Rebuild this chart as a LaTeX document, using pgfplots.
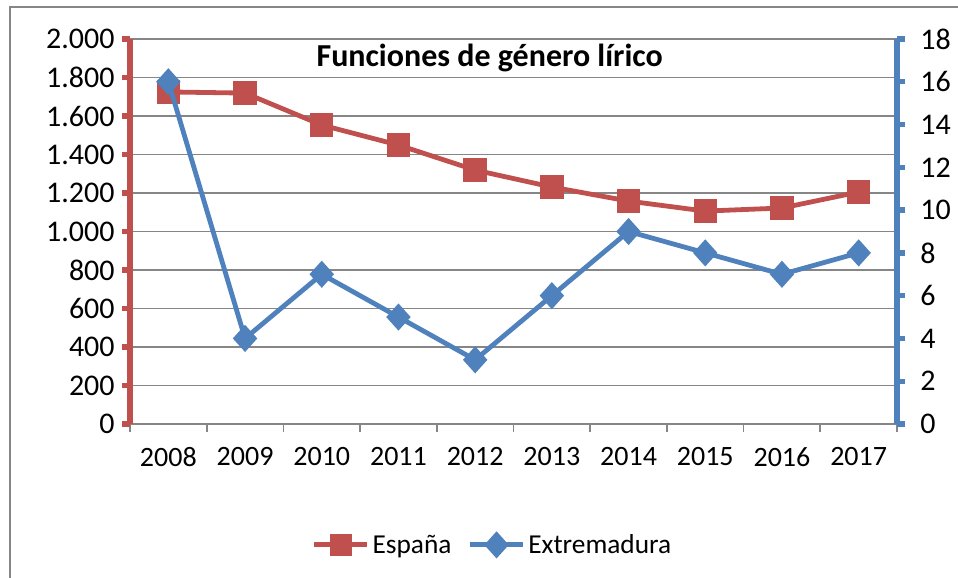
\documentclass[border=0pt]{standalone}
\usepackage{pgfplots}
\pgfplotsset{compat=1.18}
\usepackage{fontspec}
\setmainfont{Carlito}
\definecolor{rojo}{HTML}{C0504D}
\definecolor{azul}{HTML}{4F81BD}
\definecolor{rejilla}{HTML}{868686}
\newcommand\tickfont{\fontsize{21}{24}\selectfont}
\newcommand\ytickfont{\fontsize{22.5}{26}\selectfont}
\pgfplotsset{
  common/.style={
    at={(97.5pt,115.5pt)}, anchor=south west,
    scale only axis, width=575.25pt, height=288.75pt,
    xmin=-0.5, xmax=9.5,
    tick align=outside,
    major tick length=6pt, minor tick length=6pt,
    clip=false,
  },
}
\begin{document}
\begin{tikzpicture}
\useasboundingbox (0pt,0pt) rectangle (718.5pt,433.5pt);
\draw[rejilla, line width=1.5pt] (7.5pt,0pt) -- (7.5pt,428.25pt) -- (718.5pt,428.25pt);
\begin{axis}[common,
  ymin=0, ymax=2000, ytick={0,200,...,2000},
  yticklabels={0,200,400,600,800,{1.000},{1.200},{1.400},{1.600},{1.800},{2.000}},
  yticklabel style={font=\ytickfont, anchor=east, xshift=-2pt},
  xtick={0,...,9}, xticklabels={2008,2009,2010,2011,2012,2013,2014,2015,2016,2017},
  xticklabel style={font=\tickfont, yshift=-8pt},
  minor xtick={-0.5,0.5,...,9.5},
  axis x line*=bottom, axis y line*=left,
  x axis line style={rejilla, line width=1.3pt, -},
  y axis line style={rojo, line width=5pt, -},
  major x tick style={draw=none},
  minor x tick style={rejilla, line width=1.3pt},
  major y tick style={rojo, line width=4pt},
  ymajorgrids, major grid style={rejilla, line width=1.2pt},
]
\addplot[rojo, line width=3.6pt, mark=square*, mark size=7pt, mark options={solid}] coordinates {
(0,1725) (1,1719) (2,1553) (3,1449) (4,1319) (5,1231) (6,1158) (7,1106) (8,1122) (9,1205)};
\node[font=\fontsize{24}{28}\selectfont\bfseries] at (rel axis cs:0.469,0.951) {Funciones de género lírico};
\end{axis}
\begin{axis}[common,
  ymin=0, ymax=18, ytick={0,2,...,18},
  yticklabels={0,2,4,6,8,10,12,14,16,18},
  yticklabel style={font=\ytickfont, anchor=west, xshift=8pt},
  axis x line=none, axis y line*=right,
  y axis line style={azul, line width=5pt, -},
  major y tick style={azul, line width=4pt},
  legend style={at={(0.473,-0.314)}, anchor=center, draw=none, fill=none,
    legend columns=2, font=\fontsize{20.5}{24}\selectfont,
    /tikz/every even column/.append style={column sep=10pt},
    inner sep=0pt},
  legend cell align=left,
  legend image code/.code={\draw[#1, mark repeat=2, mark phase=2] plot coordinates {(0pt,0pt) (20pt,0pt) (40pt,0pt)};},
]
\addlegendimage{rojo, line width=3.6pt, mark=square*, mark size=6.5pt}
\addlegendentry{España}
\addplot[azul, line width=3.6pt, mark=diamond*, mark size=7.5pt, mark options={solid, xscale=1.2}] coordinates {
(0,16) (1,4) (2,7) (3,5) (4,3) (5,6) (6,9) (7,8) (8,7) (9,8)};
\addlegendentry{Extremadura}
\end{axis}
\end{tikzpicture}
\end{document}
